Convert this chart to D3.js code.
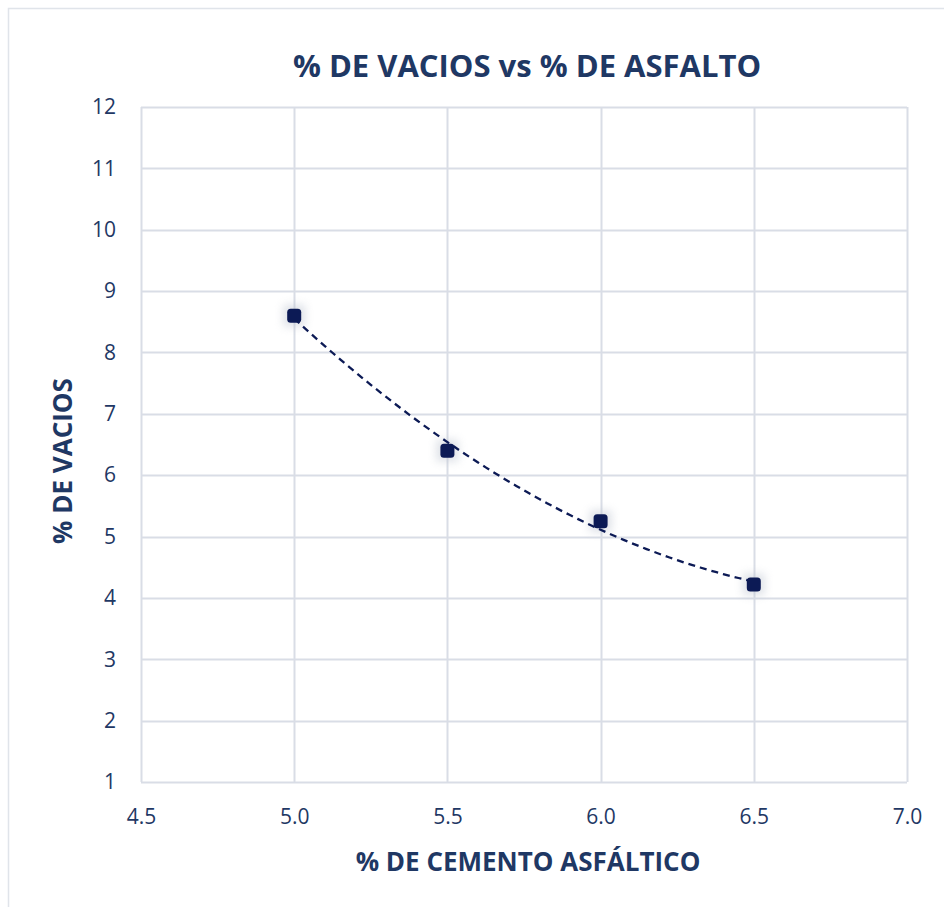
<!DOCTYPE html>
<html>
<head>
<meta charset="utf-8">
<script src="https://cdn.jsdelivr.net/npm/d3@7"></script>
<style>
  html, body { margin: 0; padding: 0; background: #fff; }
  svg { display: block; font-family: "Open Sans", "Noto Sans", sans-serif; }
</style>
</head>
<body>
<svg id="chart" width="944" height="907"></svg>
<script>
// Asphalt content (%) and air voids (%) from the mix design
const asphaltContent = [5.0, 5.5, 6.0, 6.5];
const airVoids = [8.6, 6.4, 5.25, 4.22];

const xTicks = [4.5, 5.0, 5.5, 6.0, 6.5, 7.0];
const yTicks = [1, 2, 3, 4, 5, 6, 7, 8, 9, 10, 11, 12];

const titleText = "% DE VACIOS vs % DE ASFALTO";
const xTitle = "% DE CEMENTO ASFÁLTICO";
const yTitle = "% DE VACIOS";

const ink = "#1f3864";
const markColor = "#0c1a55";
const gridColor = "#d9dde6";

const svg = d3.select("#chart");
const W = 944, H = 907;
const m = { left: 141, right: 907, top: 107, bottom: 782 };

// Outer chart frame
svg.append("rect")
  .attr("x", 8.5).attr("y", 8.5)
  .attr("width", W).attr("height", H)
  .attr("fill", "#fff").attr("stroke", "#e0e4ea").attr("stroke-width", 1.5);

const x = d3.scaleLinear().domain([4.5, 7.0]).range([m.left, m.right]);
const y = d3.scaleLinear().domain([1, 12]).range([m.bottom, m.top]);

// Glow behind markers
const defs = svg.append("defs");
const glow = defs.append("filter").attr("id", "glow")
  .attr("x", "-150%").attr("y", "-150%").attr("width", "400%").attr("height", "400%");
glow.append("feGaussianBlur").attr("stdDeviation", 4);

// Gridlines
const grid = svg.append("g");
grid.selectAll("line.h").data(yTicks).join("line")
  .attr("x1", m.left).attr("x2", m.right)
  .attr("y1", d => Math.round(y(d)) + 0.5).attr("y2", d => Math.round(y(d)) + 0.5)
  .attr("stroke", gridColor).attr("stroke-width", 2);
grid.selectAll("line.v").data(xTicks).join("line")
  .attr("y1", m.top).attr("y2", m.bottom)
  .attr("x1", d => Math.round(x(d)) + 0.5).attr("x2", d => Math.round(x(d)) + 0.5)
  .attr("stroke", gridColor).attr("stroke-width", 2);

// Axes (labels only)
const xAxis = svg.append("g")
  .attr("transform", `translate(0,${m.bottom})`)
  .call(d3.axisBottom(x).tickValues(xTicks).tickFormat(d3.format(".1f")).tickSize(0).tickPadding(27));
const yAxis = svg.append("g")
  .attr("transform", `translate(${m.left},0)`)
  .call(d3.axisLeft(y).tickValues(yTicks).tickFormat(d3.format("d")).tickSize(0).tickPadding(25));
[xAxis, yAxis].forEach(a => {
  a.select(".domain").remove();
  a.selectAll("text").attr("fill", ink).attr("font-size", 21)
    .attr("font-family", "'Open Sans', sans-serif");
});

// Second-order polynomial trendline (least squares)
function polyFit2(xs, ys) {
  let s = [0, 0, 0, 0, 0], t = [0, 0, 0];
  xs.forEach((xi, i) => {
    for (let k = 0; k <= 4; k++) s[k] += Math.pow(xi, k);
    for (let k = 0; k <= 2; k++) t[k] += Math.pow(xi, k) * ys[i];
  });
  const A = [[s[0], s[1], s[2], t[0]], [s[1], s[2], s[3], t[1]], [s[2], s[3], s[4], t[2]]];
  for (let i = 0; i < 3; i++) {
    for (let j = i + 1; j < 3; j++) {
      const f = A[j][i] / A[i][i];
      for (let k = i; k < 4; k++) A[j][k] -= f * A[i][k];
    }
  }
  const c = [0, 0, 0];
  for (let i = 2; i >= 0; i--) {
    let v = A[i][3];
    for (let k = i + 1; k < 3; k++) v -= A[i][k] * c[k];
    c[i] = v / A[i][i];
  }
  return xv => c[0] + c[1] * xv + c[2] * xv * xv;
}
const fit = polyFit2(asphaltContent, airVoids);
const xs = d3.range(0, 61).map(i => 5.0 + i * 1.5 / 60);

// Marker glow
const pts = asphaltContent.map((d, i) => [d, airVoids[i]]);
svg.append("g").selectAll("rect").data(pts).join("rect")
  .attr("x", d => x(d[0]) - 11).attr("y", d => y(d[1]) - 11)
  .attr("width", 22).attr("height", 22)
  .attr("fill", "#b8bfcc").attr("opacity", 0.45).attr("filter", "url(#glow)");

svg.append("path")
  .datum(xs)
  .attr("d", d3.line().x(d => x(d)).y(d => y(fit(d))))
  .attr("fill", "none").attr("stroke", markColor)
  .attr("stroke-width", 2.3).attr("stroke-dasharray", "7,5");

// Markers
svg.append("g").selectAll("rect").data(pts).join("rect")
  .attr("x", d => x(d[0]) - 7).attr("y", d => y(d[1]) - 7)
  .attr("width", 14).attr("height", 14).attr("rx", 3.5)
  .attr("fill", markColor);

// Titles
svg.append("text")
  .attr("x", 527).attr("y", 77)
  .attr("text-anchor", "middle").attr("fill", ink)
  .attr("font-size", 31).attr("font-weight", 700)
  .text(titleText);
svg.append("text")
  .attr("x", 528).attr("y", 871)
  .attr("text-anchor", "middle").attr("fill", ink)
  .attr("font-size", 26).attr("font-weight", 700)
  .text(xTitle);
svg.append("text")
  .attr("transform", "translate(72,461) rotate(-90)")
  .attr("text-anchor", "middle").attr("fill", ink)
  .attr("font-size", 26).attr("font-weight", 700)
  .text(yTitle);
</script>
</body>
</html>
